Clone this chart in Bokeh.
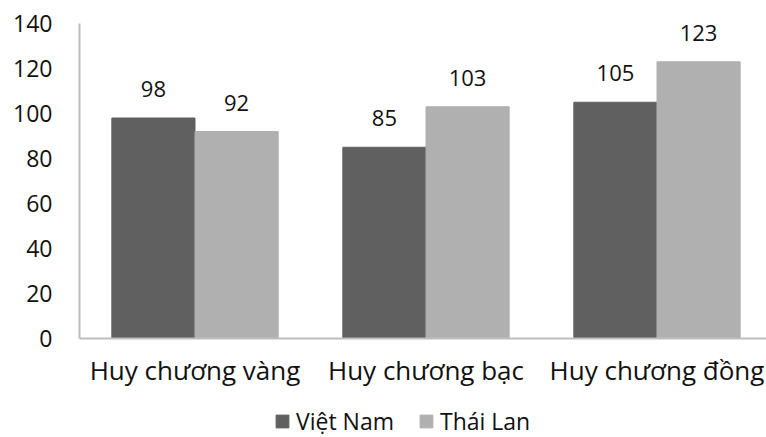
from bokeh.plotting import figure
from bokeh.layouts import column
from bokeh.models import Range1d, FixedTicker, Legend, LegendItem
from bokeh.core.properties import value
from bokeh.embed import file_html
from bokeh.resources import INLINE

categories = ["Huy chương vàng", "Huy chương bạc", "Huy chương đồng"]
series_names = ["Việt Nam", "Thái Lan"]
viet_nam = [98, 85, 105]
thai_lan = [92, 103, 123]
y_ticks = [0, 20, 40, 60, 80, 100, 120, 140]

FONT = "Open Sans"
DARK = "#606060"
LIGHT = "#b0b0b0"
TEXT = "#111111"
AXIS = "#bdbdbd"

W = 766
frame_left = 79
frame_w = W - frame_left
group_px = 231.0

p = figure(width=W, height=392, output_backend="svg", toolbar_location=None,
           x_range=Range1d(0, frame_w / group_px), y_range=Range1d(0, 140),
           min_border_left=frame_left, min_border_right=0,
           min_border_top=23, min_border_bottom=54)
p.outline_line_color = None
p.xgrid.visible = False
p.ygrid.visible = False
p.background_fill_color = "white"
p.border_fill_color = "white"

centers = [i + 0.5 for i in range(len(categories))]
bw = 0.36
x_vn = [c - bw / 2 for c in centers]
x_tl = [c + bw / 2 for c in centers]

r1 = p.vbar(x=x_vn, top=viet_nam, width=bw, bottom=0, fill_color=DARK, line_color=DARK)
r2 = p.vbar(x=x_tl, top=thai_lan, width=bw, bottom=0, fill_color=LIGHT, line_color=LIGHT)

for xs, vals in ((x_vn, viet_nam), (x_tl, thai_lan)):
    p.text(x=xs, y=vals, text=[str(v) for v in vals], text_align="center",
           text_baseline="middle", y_offset=-29, text_font=value(FONT),
           text_font_size="22px", text_color=TEXT)

# x axis
p.xaxis.ticker = FixedTicker(ticks=centers)
p.xaxis.major_label_overrides = {c: lab for c, lab in zip(centers, categories)}
p.xaxis.major_tick_line_color = None
p.xaxis.minor_tick_line_color = None
p.xaxis.axis_line_color = AXIS
p.xaxis.axis_line_width = 2
p.xaxis.major_label_standoff = 7
p.xaxis.major_label_text_font = FONT
p.xaxis.major_label_text_font_size = "26px"
p.xaxis.major_label_text_color = TEXT

# y axis
p.yaxis.ticker = FixedTicker(ticks=y_ticks)
p.yaxis.major_tick_line_color = None
p.yaxis.minor_tick_line_color = None
p.yaxis.axis_line_color = AXIS
p.yaxis.axis_line_width = 2
p.yaxis.major_label_standoff = 21
p.yaxis.major_label_text_font = FONT
p.yaxis.major_label_text_font_size = "23px"
p.yaxis.major_label_text_color = TEXT

# legend row (its frame is aligned with the chart frame by the column layout)
lg = figure(width=W, height=45, output_backend="svg", toolbar_location=None,
            x_range=Range1d(0, 1), y_range=Range1d(0, 1),
            min_border_left=frame_left, min_border_right=0, min_border_top=0, min_border_bottom=0)
lg.xaxis.visible = False
lg.yaxis.visible = False
lg.xgrid.visible = False
lg.ygrid.visible = False
lg.outline_line_color = None
l1 = lg.vbar(x=[0.5], top=[1], width=0.1, fill_color=DARK, line_color=DARK, visible=False)
l2 = lg.vbar(x=[0.5], top=[1], width=0.1, fill_color=LIGHT, line_color=LIGHT, visible=False)
legend = Legend(items=[LegendItem(label=series_names[0], renderers=[l1], index=0),
                       LegendItem(label=series_names[1], renderers=[l2], index=0)],
                orientation="horizontal", location=(274 - frame_left, 0),
                glyph_width=16, glyph_height=16, label_standoff=6, spacing=24,
                padding=0, margin=0, border_line_color=None,
                background_fill_alpha=0, inactive_fill_alpha=0,
                label_text_font=FONT,
                label_text_font_size="23px", label_text_color=TEXT)
lg.add_layout(legend, "center")

layout = column(p, lg, spacing=0)
open("out.html", "w").write(file_html(layout, INLINE))
